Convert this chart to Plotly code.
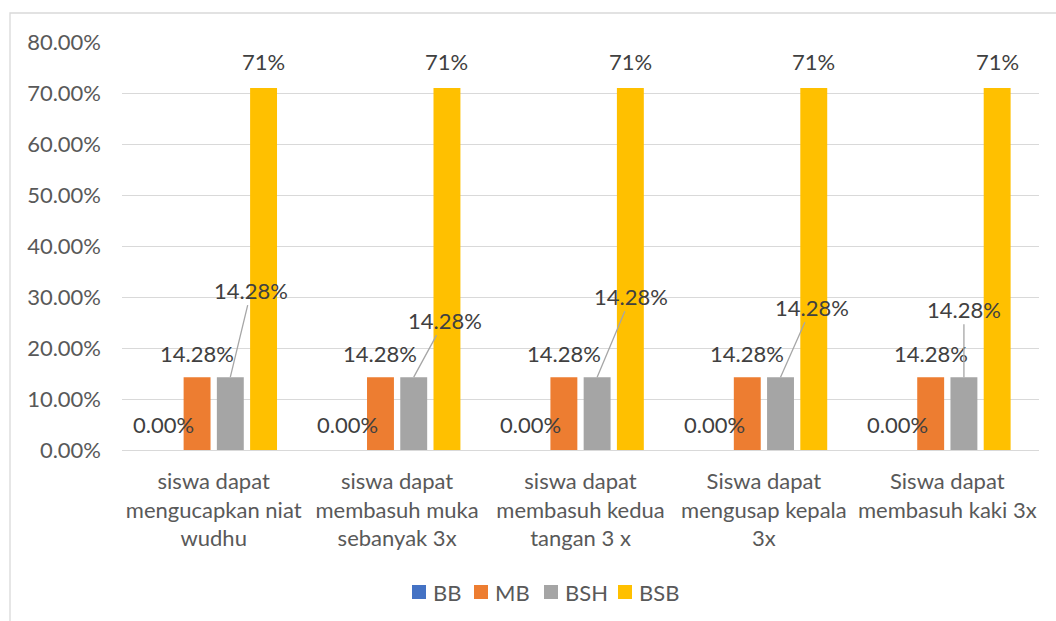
import plotly.graph_objects as go

# Activity categories (x axis), wrapped the way the chart shows them
categories = [
    "siswa dapat<br>mengucapkan niat<br>wudhu",
    "siswa dapat<br>membasuh muka<br>sebanyak 3x",
    "siswa dapat<br>membasuh kedua<br>tangan 3 x",
    "Siswa dapat<br>mengusap kepala<br>3x",
    "Siswa dapat<br>membasuh kaki 3x",
]

# Share of students per assessment level
bb = [0.0, 0.0, 0.0, 0.0, 0.0]
mb = [0.1428, 0.1428, 0.1428, 0.1428, 0.1428]
bsh = [0.1428, 0.1428, 0.1428, 0.1428, 0.1428]
bsb = [0.71, 0.71, 0.71, 0.71, 0.71]

y_ticks = [0.0, 0.1, 0.2, 0.3, 0.4, 0.5, 0.6, 0.7, 0.8]

series = [
    ("BB", bb, "#4472C4"),
    ("MB", mb, "#ED7D31"),
    ("BSH", bsh, "#A5A5A5"),
    ("BSB", bsb, "#FFC000"),
]

# Pixel offsets of the BSH callout labels relative to their bar tops
bsh_label_dx = [21, 31, 34, 31, 0]
bsh_label_dy = [-87, -57, -81, -70, -68]

FONT = "Lato"
FS = 22
AXIS_COLOR = "#595959"
LABEL_COLOR = "#404040"
GRID = "#d9d9d9"

W, H = 1056, 621
ML, MR, MT, MB_ = 122, 17, 42, 171
PW, PH = W - ML - MR, H - MT - MB_

def px_x(p):
    return (p - ML) / PW

def px_y(p):
    return (H - MB_ - p) / PH

bargap = 0.275
bargroupgap = 0.19
slot = (1 - bargap) / len(series)
offsets = [(k - (len(series) - 1) / 2) * slot for k in range(len(series))]

xpos = list(range(len(categories)))

fig = go.Figure()
for name, vals, color in series:
    fig.add_trace(go.Bar(
        x=xpos, y=vals, name=name, showlegend=False,
        marker=dict(color=color, line=dict(width=0)),
    ))

lab_font = dict(color=LABEL_COLOR, size=FS, family=FONT)
annotations = []
for i in xpos:
    annotations.append(dict(
        x=i + offsets[0], y=bb[i], xref="x", yref="y", text=f"{bb[i]:.2%}",
        showarrow=False, yshift=26, font=lab_font,
    ))
    annotations.append(dict(
        x=i + offsets[1], y=mb[i], xref="x", yref="y", text=f"{mb[i]:.2%}",
        showarrow=False, yshift=24, font=lab_font,
    ))
    annotations.append(dict(
        x=i + offsets[2], y=bsh[i], xref="x", yref="y", text=f"{bsh[i]:.2%}",
        showarrow=True, arrowhead=0, arrowwidth=1.3, arrowcolor="#a6a6a6",
        ax=bsh_label_dx[i], ay=bsh_label_dy[i], standoff=0, startstandoff=0,
        font=lab_font,
    ))
    annotations.append(dict(
        x=i + offsets[3], y=bsb[i], xref="x", yref="y", text=f"{bsb[i]:.0%}",
        showarrow=False, yshift=26, font=lab_font,
    ))

# Legend row: colour square followed by the series name
legend_px = [412, 474, 544, 618]
legend_cy = 592
shapes = [dict(
    type="rect", xref="paper", yref="paper",
    x0=px_x(10), x1=1.2, y0=-0.7, y1=px_y(13),
    line=dict(color=GRID, width=1.3), layer="below",
)]
for (name, _, color), lx in zip(series, legend_px):
    shapes.append(dict(
        type="rect", xref="paper", yref="paper",
        x0=px_x(lx), x1=px_x(lx + 14), y0=px_y(legend_cy + 7), y1=px_y(legend_cy - 7),
        fillcolor=color, line=dict(width=0),
    ))
    annotations.append(dict(
        x=px_x(lx + 19), y=px_y(legend_cy), xref="paper", yref="paper",
        xanchor="left", yanchor="middle", text=name, showarrow=False,
        font=dict(color=AXIS_COLOR, size=FS, family=FONT),
    ))

fig.update_layout(
    width=W, height=H,
    margin=dict(l=ML, r=MR, t=MT, b=MB_),
    paper_bgcolor="white", plot_bgcolor="white",
    font=dict(family=FONT, color=AXIS_COLOR, size=FS),
    barmode="group", bargap=bargap, bargroupgap=bargroupgap,
    showlegend=False,
    annotations=annotations,
    shapes=shapes,
)

fig.update_xaxes(
    range=[-0.5, len(categories) - 0.5],
    tickvals=xpos, ticktext=categories,
    showgrid=False, zeroline=False, showline=False, ticks="",
    ticklabelstandoff=16,
    tickfont=dict(size=FS, color=AXIS_COLOR, family=FONT),
)
fig.update_yaxes(
    range=[0, 0.8], tickvals=y_ticks, tickformat=".2%",
    showgrid=True, gridcolor=GRID, gridwidth=1.3,
    zeroline=True, zerolinecolor=GRID, zerolinewidth=1.3,
    showline=False, ticks="", ticklabelstandoff=20,
    tickfont=dict(size=FS, color=AXIS_COLOR, family=FONT),
)

fig.write_html("out.html")
